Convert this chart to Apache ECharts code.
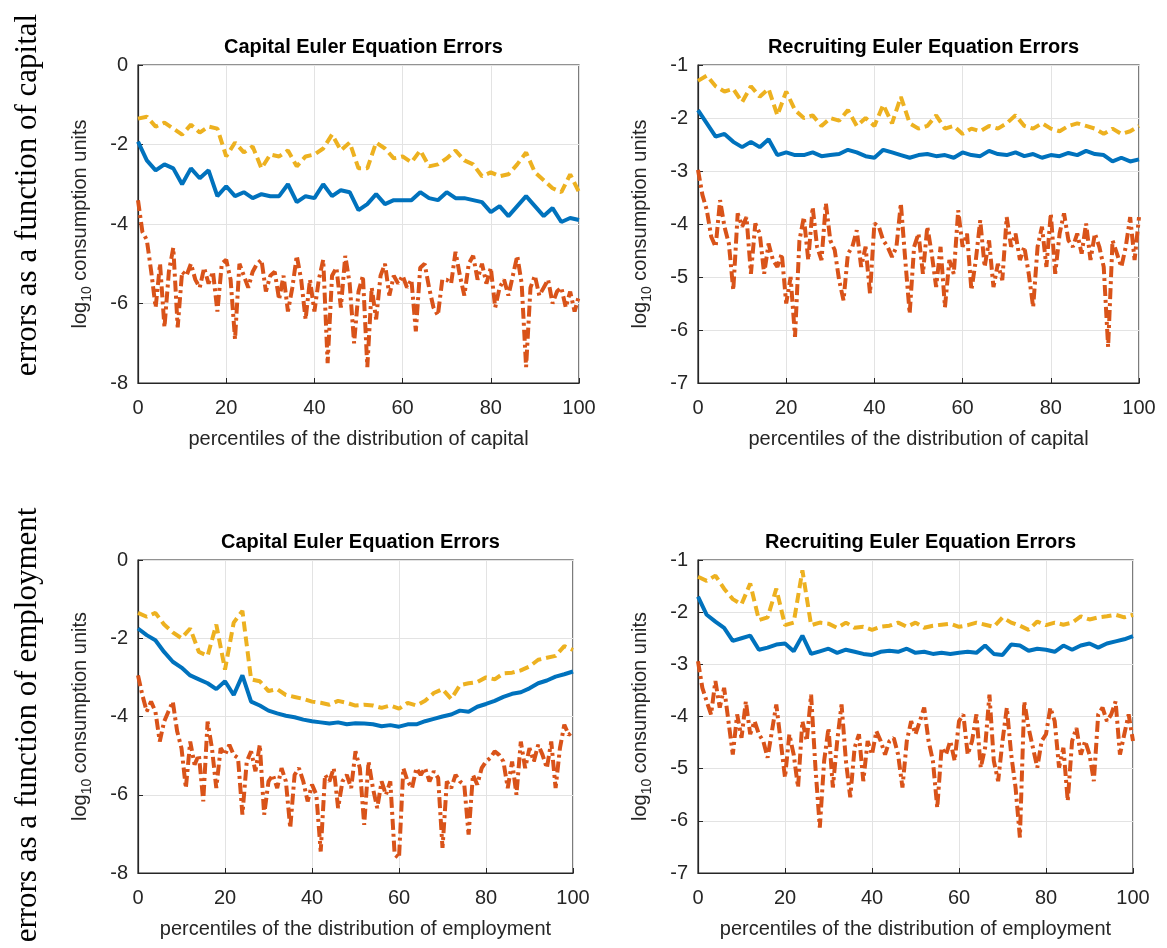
<!DOCTYPE html>
<html><head><meta charset="utf-8">
<script src="https://cdn.jsdelivr.net/npm/echarts@6/dist/echarts.min.js"></script>
<style>html,body{margin:0;padding:0;background:#fff}#c{width:1167px;height:948px}</style>
</head><body><div id="c"></div>
<script>
// x positions (percentiles)
const xEven = Array.from({length:51},(_,i)=>i*2);
const xAll = Array.from({length:101},(_,i)=>i);

const panelTitles = ['Capital Euler Equation Errors','Recruiting Euler Equation Errors','Capital Euler Equation Errors','Recruiting Euler Equation Errors'];
const xAxisNames = ['percentiles of the distribution of capital','percentiles of the distribution of capital','percentiles of the distribution of employment','percentiles of the distribution of employment'];
const rowLabels = ['errors as a function of capital','errors as a function of employment'];

// Panel 1: capital Euler errors vs capital
const capKBlue = [-1.93,-2.4,-2.65,-2.5,-2.6,-3.0,-2.6,-2.85,-2.65,-3.3,-3.05,-3.3,-3.2,-3.35,-3.25,-3.3,-3.3,-3.0,-3.45,-3.3,-3.35,-3.0,-3.3,-3.15,-3.2,-3.65,-3.5,-3.25,-3.5,-3.4,-3.4,-3.4,-3.2,-3.35,-3.4,-3.2,-3.35,-3.35,-3.4,-3.45,-3.7,-3.55,-3.8,-3.55,-3.3,-3.55,-3.8,-3.6,-3.95,-3.85,-3.9];
const capKYellow = [-1.35,-1.3,-1.55,-1.45,-1.6,-1.75,-1.5,-1.7,-1.55,-1.6,-2.3,-1.95,-2.2,-2.05,-2.6,-2.25,-2.3,-2.15,-2.55,-2.3,-2.25,-2.1,-1.75,-2.15,-1.95,-2.6,-2.6,-1.95,-2.1,-2.35,-2.3,-2.45,-2.15,-2.55,-2.5,-2.35,-2.15,-2.4,-2.5,-2.8,-2.7,-2.8,-2.75,-2.5,-2.2,-2.7,-2.9,-3.1,-3.2,-2.75,-3.2];
const capKOrange = [-3.4,-4.2,-4.4,-5.2,-6.1,-5.0,-6.6,-5.2,-4.6,-6.6,-5.2,-5.3,-5.0,-5.4,-5.6,-5.1,-5.5,-5.2,-6.2,-5.0,-4.9,-5.4,-6.9,-5.0,-5.3,-5.6,-5.2,-5.0,-4.9,-5.7,-5.3,-5.2,-5.9,-5.3,-6.2,-5.6,-4.8,-5.4,-6.4,-5.4,-6.2,-5.4,-4.9,-7.5,-5.3,-5.1,-6.1,-4.8,-5.5,-7.0,-5.7,-5.3,-7.6,-5.6,-6.4,-5.3,-5.0,-5.8,-5.3,-5.5,-5.3,-5.6,-5.4,-6.7,-5.1,-5.0,-5.6,-6.1,-6.3,-5.4,-5.4,-5.5,-4.7,-5.3,-5.8,-5.0,-4.8,-5.4,-5.0,-5.5,-5.1,-6.1,-5.6,-5.4,-5.8,-5.3,-4.8,-5.5,-7.6,-5.6,-5.3,-5.8,-5.6,-5.4,-6.0,-5.7,-5.6,-6.1,-5.7,-6.2,-5.8];

// Panel 2: recruiting Euler errors vs capital
const recKBlue = [-1.85,-2.1,-2.35,-2.3,-2.45,-2.55,-2.45,-2.55,-2.4,-2.7,-2.65,-2.7,-2.7,-2.65,-2.72,-2.7,-2.68,-2.6,-2.65,-2.72,-2.75,-2.6,-2.65,-2.7,-2.75,-2.7,-2.68,-2.72,-2.7,-2.75,-2.65,-2.7,-2.72,-2.62,-2.68,-2.7,-2.65,-2.72,-2.68,-2.75,-2.7,-2.72,-2.66,-2.7,-2.62,-2.68,-2.7,-2.82,-2.75,-2.82,-2.78];
const recKYellow = [-1.3,-1.2,-1.4,-1.5,-1.45,-1.7,-1.4,-1.6,-1.45,-1.95,-1.5,-1.85,-2.0,-1.95,-2.15,-2.0,-2.05,-1.85,-2.15,-2.0,-2.15,-1.75,-2.1,-1.6,-2.1,-2.2,-2.15,-1.95,-2.2,-2.15,-2.3,-2.2,-2.25,-2.15,-2.2,-2.1,-1.95,-2.15,-2.2,-2.1,-2.2,-2.25,-2.15,-2.1,-2.15,-2.2,-2.3,-2.2,-2.3,-2.25,-2.15];
const recKOrange = [-2.98,-3.45,-3.74,-4.24,-4.43,-3.55,-4.05,-4.37,-5.25,-3.8,-4.05,-3.87,-4.94,-3.99,-4.18,-4.94,-4.37,-4.68,-4.81,-4.56,-5.5,-5.0,-6.13,-4.31,-3.87,-4.68,-3.68,-4.43,-4.68,-3.61,-4.31,-4.49,-5.06,-5.44,-4.56,-4.43,-4.12,-4.81,-4.43,-5.31,-3.99,-4.05,-4.31,-4.43,-4.62,-4.43,-3.61,-4.68,-5.69,-4.43,-4.18,-4.94,-4.05,-4.56,-5.19,-4.43,-5.57,-4.68,-4.94,-3.74,-4.43,-4.18,-5.25,-4.68,-3.93,-4.81,-4.31,-5.19,-4.75,-5.06,-3.87,-4.43,-4.18,-4.68,-4.43,-4.94,-5.57,-4.43,-4.05,-4.81,-3.8,-4.94,-4.18,-3.8,-4.31,-4.43,-4.18,-4.56,-3.99,-4.68,-4.18,-4.43,-4.81,-6.32,-4.31,-4.56,-4.81,-4.43,-3.87,-4.68,-3.87];

// Panel 3: capital Euler errors vs employment
const capNBlue = [-1.75,-1.92,-2.05,-2.35,-2.6,-2.75,-2.95,-3.05,-3.15,-3.3,-3.1,-3.45,-2.95,-3.62,-3.72,-3.85,-3.92,-3.98,-4.02,-4.08,-4.12,-4.15,-4.18,-4.15,-4.2,-4.17,-4.18,-4.2,-4.25,-4.22,-4.26,-4.2,-4.2,-4.12,-4.06,-4.0,-3.95,-3.85,-3.88,-3.75,-3.68,-3.6,-3.5,-3.42,-3.38,-3.28,-3.15,-3.08,-2.98,-2.92,-2.85];
const capNYellow = [-1.35,-1.45,-1.35,-1.65,-1.85,-2.0,-1.75,-2.35,-2.45,-1.65,-2.8,-1.6,-1.3,-3.05,-3.1,-3.35,-3.3,-3.45,-3.5,-3.55,-3.62,-3.65,-3.7,-3.6,-3.65,-3.72,-3.7,-3.72,-3.78,-3.72,-3.8,-3.65,-3.72,-3.6,-3.4,-3.3,-3.55,-3.2,-3.15,-3.12,-3.0,-3.05,-2.9,-2.88,-2.82,-2.72,-2.55,-2.5,-2.45,-2.2,-2.3];
const capNOrange = [-2.95,-3.45,-3.87,-3.62,-3.87,-4.64,-4.13,-3.87,-3.62,-4.38,-4.81,-5.83,-4.64,-5.23,-4.98,-6.17,-4.13,-4.81,-5.83,-4.81,-4.98,-4.72,-4.98,-5.06,-6.51,-5.15,-4.89,-5.4,-4.72,-6.51,-5.66,-5.49,-5.83,-5.32,-5.66,-6.85,-5.49,-5.32,-5.66,-6.17,-5.74,-6.0,-7.45,-5.49,-5.66,-5.32,-6.34,-5.66,-5.49,-5.83,-4.89,-5.32,-6.77,-5.15,-5.83,-6.34,-5.66,-6.0,-5.66,-7.53,-7.62,-5.32,-5.66,-5.83,-5.32,-5.49,-5.32,-5.66,-5.4,-5.57,-7.36,-5.66,-5.83,-5.49,-5.66,-5.74,-7.02,-5.49,-5.74,-5.32,-5.15,-5.06,-4.89,-4.98,-5.15,-5.83,-5.15,-6.0,-4.64,-5.32,-4.81,-5.15,-4.72,-4.98,-5.32,-4.64,-5.83,-4.81,-4.21,-4.47,-4.38];

// Panel 4: recruiting Euler errors vs employment
const recNBlue = [-1.7,-2.05,-2.18,-2.3,-2.55,-2.5,-2.45,-2.72,-2.68,-2.62,-2.6,-2.75,-2.45,-2.8,-2.75,-2.7,-2.78,-2.72,-2.76,-2.8,-2.82,-2.76,-2.74,-2.76,-2.7,-2.78,-2.76,-2.8,-2.78,-2.8,-2.78,-2.76,-2.78,-2.64,-2.8,-2.82,-2.62,-2.64,-2.74,-2.7,-2.72,-2.76,-2.64,-2.72,-2.64,-2.6,-2.68,-2.6,-2.56,-2.52,-2.46];
const recNYellow = [-1.32,-1.4,-1.3,-1.55,-1.75,-1.85,-1.45,-2.15,-2.1,-1.55,-2.25,-2.2,-1.2,-2.25,-2.2,-2.22,-2.3,-2.2,-2.3,-2.28,-2.34,-2.28,-2.26,-2.2,-2.28,-2.2,-2.3,-2.26,-2.24,-2.22,-2.28,-2.25,-2.2,-2.24,-2.28,-2.1,-2.2,-2.26,-2.34,-2.18,-2.25,-2.2,-2.24,-2.2,-2.08,-2.14,-2.1,-2.08,-2.05,-2.1,-2.05];
const recNOrange = [-2.94,-3.45,-3.71,-3.96,-3.32,-3.83,-3.45,-4.09,-4.73,-3.96,-4.41,-3.71,-4.34,-4.09,-4.34,-4.47,-4.79,-4.28,-3.77,-4.47,-5.17,-4.34,-4.73,-5.36,-4.09,-4.47,-3.58,-4.98,-6.13,-4.85,-4.22,-5.36,-4.47,-3.77,-4.85,-5.55,-4.6,-4.34,-5.24,-4.47,-4.73,-4.28,-4.47,-4.73,-4.47,-4.41,-4.73,-5.36,-4.47,-4.09,-4.34,-4.09,-3.83,-4.47,-4.85,-5.75,-4.6,-4.73,-4.47,-4.85,-4.09,-3.96,-4.73,-4.47,-3.96,-4.98,-4.6,-3.58,-4.85,-5.24,-4.47,-3.83,-4.73,-5.36,-6.32,-3.71,-4.22,-4.6,-4.98,-4.47,-4.34,-3.83,-4.09,-4.98,-4.6,-5.62,-4.47,-4.22,-4.73,-4.47,-4.73,-5.24,-3.96,-3.83,-4.09,-3.96,-3.71,-4.73,-4.34,-3.96,-4.47];

// y-axis ranges per panel
const yMins = [-8,-7,-8,-7];
const yMaxs = [0,-1,0,-1];
const yIntervals = [2,1,2,1];

const panels = [
  {blue:capKBlue, yellow:capKYellow, orange:capKOrange},
  {blue:recKBlue, yellow:recKYellow, orange:recKOrange},
  {blue:capNBlue, yellow:capNYellow, orange:capNOrange},
  {blue:recNBlue, yellow:recNYellow, orange:recNOrange}
];

const grids = [
  {left:138, top:65, width:441, height:318},
  {left:698, top:65, width:441, height:318},
  {left:138, top:560, width:435, height:313},
  {left:698, top:560, width:435, height:313}
];

const pair = (xs, ys) => xs.map((x,i)=>[x, ys[i]]);
const txt = '#262626';
const font = 'Liberation Sans, Arial, Helvetica, sans-serif';
const serif = 'Liberation Serif, DejaVu Serif, serif';

const option = {
  animation:false,
  backgroundColor:'#fff',
  title: grids.map((g,i)=>({
    text: panelTitles[i],
    left: g.left + g.width/2,
    top: g.top - 33,
    textAlign:'center',
    textStyle:{fontFamily:font, fontSize:20, fontWeight:'bold', color:'#000'}
  })),
  grid: grids.map(g=>Object.assign({show:true, borderColor:txt, borderWidth:1.2, containLabel:false}, g)),
  xAxis: grids.map((g,i)=>({
    type:'value', gridIndex:i, min:0, max:100, interval:20,
    name: xAxisNames[i], nameLocation:'middle', nameGap:46,
    nameTextStyle:{fontFamily:font, fontSize:20, color:txt},
    axisLine:{show:true, onZero:false, lineStyle:{color:txt, width:1.2}},
    axisTick:{show:true, inside:true, length:5, lineStyle:{color:txt}},
    axisLabel:{fontFamily:font, fontSize:20, color:txt, margin:15},
    splitLine:{show:true, lineStyle:{color:'#e3e3e3', width:1}}
  })),
  yAxis: grids.map((g,i)=>({
    type:'value', gridIndex:i, min:yMins[i], max:yMaxs[i], interval:yIntervals[i],
    name:'{a|log}{b|10}{a| consumption units}', nameLocation:'middle', nameGap:44, nameRotate:90,
    nameTextStyle:{fontFamily:font, color:txt, rich:{
      a:{fontFamily:font, fontSize:20, color:txt, lineHeight:24, verticalAlign:'top'},
      b:{fontFamily:font, fontSize:14, color:txt, lineHeight:24, verticalAlign:'bottom', padding:[10,0,0,0]}
    }},
    axisLine:{show:true, lineStyle:{color:txt, width:1.2}},
    axisTick:{show:true, inside:true, length:5, lineStyle:{color:txt}},
    axisLabel:{fontFamily:font, fontSize:20, color:txt, margin:10},
    splitLine:{show:true, lineStyle:{color:'#e3e3e3', width:1}}
  })),
  series: panels.flatMap((p,i)=>[
    {type:'line', xAxisIndex:i, yAxisIndex:i, data:pair(xAll,p.orange), showSymbol:false, symbol:'none',
      lineStyle:{color:'#D95319', width:4, type:[11,4,3,4]}, z:2},
    {type:'line', xAxisIndex:i, yAxisIndex:i, data:pair(xEven,p.yellow), showSymbol:false, symbol:'none',
      lineStyle:{color:'#EDB120', width:4, type:[10,5]}, z:3},
    {type:'line', xAxisIndex:i, yAxisIndex:i, data:pair(xEven,p.blue), showSymbol:false, symbol:'none',
      lineStyle:{color:'#0072BD', width:4}, z:4}
  ]),
  graphic: [
    {type:'text', x:28, y:195, rotation:Math.PI/2, style:{text:rowLabels[0], fontFamily:serif, fontSize:31, fill:'#000', align:'center', verticalAlign:'middle'}},
    {type:'text', x:28, y:725, rotation:Math.PI/2, style:{text:rowLabels[1], fontFamily:serif, fontSize:31, fill:'#000', align:'center', verticalAlign:'middle'}}
  ]
};
const chart = echarts.init(document.getElementById('c'), null, {renderer:'canvas'});
chart.setOption(option);
</script></body></html>
